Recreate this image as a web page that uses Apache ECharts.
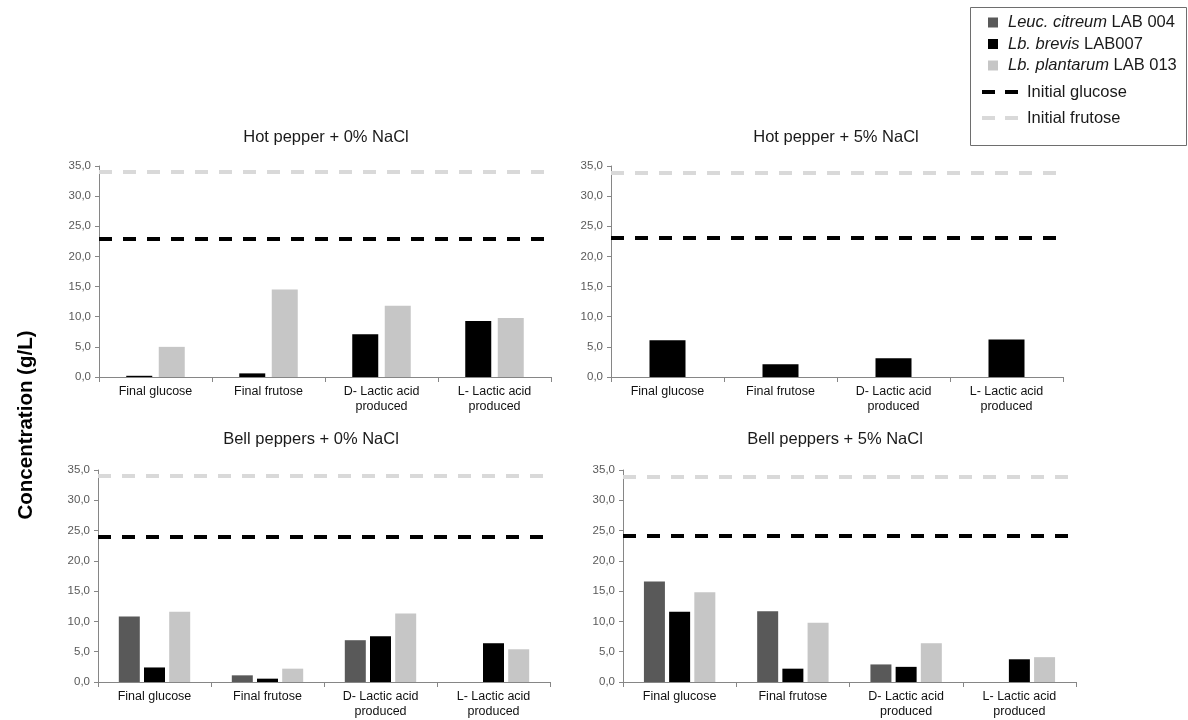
<!DOCTYPE html>
<html>
<head>
<meta charset="utf-8">
<script src="https://cdn.jsdelivr.net/npm/echarts@6/dist/echarts.min.js"></script>
<style>
  html, body { margin: 0; padding: 0; background: #fff; }
  #chart { width: 1188px; height: 720px; }
</style>
</head>
<body>
<div id="chart"></div>
<script>
// categories and panel titles
const categories = ['Final glucose', 'Final frutose', 'D- Lactic acid\nproduced', 'L- Lactic acid\nproduced'];
const panelTitles = ['Hot pepper + 0% NaCl', 'Hot pepper + 5% NaCl', 'Bell peppers + 0% NaCl', 'Bell peppers + 5% NaCl'];
const yTicks = [0, 35, 5]; // min, max, interval

// values (g/L)
const hot0Brevis = [0.2, 0.6, 7.1, 9.3];
const hot0Plantarum = [5.0, 14.5, 11.8, 9.8];
const hot5Brevis = [6.1, 2.1, 3.1, 6.2];
const bell0Citreum = [10.8, 1.1, 6.9, 0];
const bell0Brevis = [2.4, 0.55, 7.55, 6.4];
const bell0Plantarum = [11.6, 2.2, 11.3, 5.4];
const bell5Citreum = [16.6, 11.7, 2.9, 0];
const bell5Brevis = [11.6, 2.2, 2.5, 3.75];
const bell5Plantarum = [14.8, 9.8, 6.4, 4.1];

// initial sugar levels per panel
const initGlucose = [23.0, 23.1, 24.0, 24.1];
const initFrutose = [34.0, 33.9, 34.0, 33.9];

const FONT = '"Liberation Sans", Arial, sans-serif';
const NAME_CIT = 'Leuc. citreum LAB 004';
const NAME_BRE = 'Lb. brevis LAB007';
const NAME_PLA = 'Lb. plantarum LAB 013';
const C_CIT = '#595959';
const C_BRE = '#000000';
const C_PLA = '#c6c6c6';

const grids = [
    { left: 99, top: 166, width: 452, height: 211 },
    { left: 611, top: 166, width: 452, height: 211 },
    { left: 98, top: 470, width: 452, height: 212 },
    { left: 623, top: 470, width: 453, height: 212 },
];
const titlePos = [[326, 129], [836, 129], [311, 431], [835, 431]];

const chart = echarts.init(document.getElementById('chart'));

const xAxes = grids.map((g, i) => ({
    type: 'category',
    gridIndex: i,
    data: categories,
    axisLine: { lineStyle: { color: '#868686', width: 1 } },
    axisTick: { show: true, length: 5, lineStyle: { color: '#868686' } },
    axisLabel: {
        interval: 0,
        margin: 7,
        fontFamily: FONT,
        fontSize: 12.5,
        lineHeight: 15,
        color: '#111',
    },
}));

const yAxes = grids.map((g, i) => ({
    type: 'value',
    gridIndex: i,
    min: yTicks[0],
    max: yTicks[1],
    interval: yTicks[2],
    splitLine: { show: false },
    axisLine: { show: true, lineStyle: { color: '#868686', width: 1 } },
    axisTick: { show: true, length: 4, lineStyle: { color: '#868686' } },
    axisLabel: {
        margin: 8,
        fontFamily: FONT,
        fontSize: 11.5,
        color: '#595959',
        formatter: v => v.toFixed(1).replace('.', ','),
    },
}));

function bar(name, color, data, i, width, gap) {
    return {
        type: 'bar',
        name: name,
        xAxisIndex: i,
        yAxisIndex: i,
        data: data,
        barWidth: width,
        barGap: gap,
        itemStyle: { color: color },
        emphasis: { disabled: true },
    };
}

// dashed reference lines (empty line series carrying a markLine)
function refLine(name, color, value, i) {
    return {
        type: 'line',
        name: name,
        xAxisIndex: i,
        yAxisIndex: i,
        data: [],
        itemStyle: { color: color },
        lineStyle: { color: color },
        markLine: {
            silent: true,
            symbol: 'none',
            label: { show: false },
            emphasis: { disabled: true },
            lineStyle: { color: color, width: 4, type: [13, 11] },
            data: [{ yAxis: value }],
        },
    };
}

const series = [
    bar(NAME_BRE, C_BRE, hot0Brevis, 0, 26, '25%'),
    bar(NAME_PLA, C_PLA, hot0Plantarum, 0, 26, '25%'),
    bar(NAME_BRE, C_BRE, hot5Brevis, 1, 36, '25%'),
    bar(NAME_CIT, C_CIT, bell0Citreum, 2, 21, '20%'),
    bar(NAME_BRE, C_BRE, bell0Brevis, 2, 21, '20%'),
    bar(NAME_PLA, C_PLA, bell0Plantarum, 2, 21, '20%'),
    bar(NAME_CIT, C_CIT, bell5Citreum, 3, 21, '20%'),
    bar(NAME_BRE, C_BRE, bell5Brevis, 3, 21, '20%'),
    bar(NAME_PLA, C_PLA, bell5Plantarum, 3, 21, '20%'),
];
grids.forEach((g, i) => {
    series.push(refLine('Initial frutose', '#d9d9d9', initFrutose[i], i));
    series.push(refLine('Initial glucose', '#000000', initGlucose[i], i));
});

const italicPart = {};
italicPart[NAME_CIT] = ['Leuc. citreum', ' LAB 004'];
italicPart[NAME_BRE] = ['Lb. brevis', ' LAB007'];
italicPart[NAME_PLA] = ['Lb. plantarum', ' LAB 013'];

const dashIcon = 'path://M0,0H13V4H0Z M23,0H36V4H23Z';

const option = {
    animation: false,
    backgroundColor: '#ffffff',
    title: panelTitles.map((t, i) => ({
        text: t,
        left: titlePos[i][0],
        top: titlePos[i][1],
        textAlign: 'center',
        padding: 0,
        textStyle: { fontFamily: FONT, fontSize: 16.5, fontWeight: 'normal', color: '#1a1a1a' },
    })),
    grid: grids.map(g => Object.assign({ containLabel: false }, g)),
    xAxis: xAxes,
    yAxis: yAxes,
    legend: [
        {
            orient: 'vertical',
            left: 988,
            top: 14,
            padding: 0,
            itemGap: 4.5,
            itemWidth: 10,
            itemHeight: 10,
            icon: 'rect',
            selectedMode: false,
            data: [NAME_CIT, NAME_BRE, NAME_PLA],
            formatter: name => '{i|' + italicPart[name][0] + '}' + italicPart[name][1],
            textStyle: {
                fontFamily: FONT,
                fontSize: 16.5,
                color: '#1a1a1a',
                padding: [0, 0, 0, 5],
                rich: { i: { fontFamily: FONT, fontSize: 16.5, fontStyle: 'italic', color: '#1a1a1a' } },
            },
        },
        {
            orient: 'vertical',
            left: 982,
            top: 83.5,
            padding: 0,
            itemGap: 9,
            itemWidth: 36,
            itemHeight: 4,
            selectedMode: false,
            data: [
                { name: 'Initial glucose', icon: dashIcon },
                { name: 'Initial frutose', icon: dashIcon },
            ],
            textStyle: {
                fontFamily: FONT,
                fontSize: 16.5,
                color: '#1a1a1a',
                padding: [0, 0, 0, 4],
            },
        },
    ],
    graphic: [
        {
            type: 'rect',
            silent: true,
            z: -1,
            shape: { x: 970.5, y: 7.5, width: 216, height: 138 },
            style: { fill: 'none', stroke: '#6e6e6e', lineWidth: 1 },
        },
        {
            type: 'text',
            silent: true,
            x: 26,
            y: 425,
            rotation: Math.PI / 2,
            style: {
                text: 'Concentration (g/L)',
                fontFamily: FONT,
                fontSize: 20.5,
                fontWeight: 'bold',
                fill: '#000',
                align: 'center',
                verticalAlign: 'middle',
            },
        },
    ],
    series: series,
};

chart.setOption(option);
</script>
</body>
</html>
